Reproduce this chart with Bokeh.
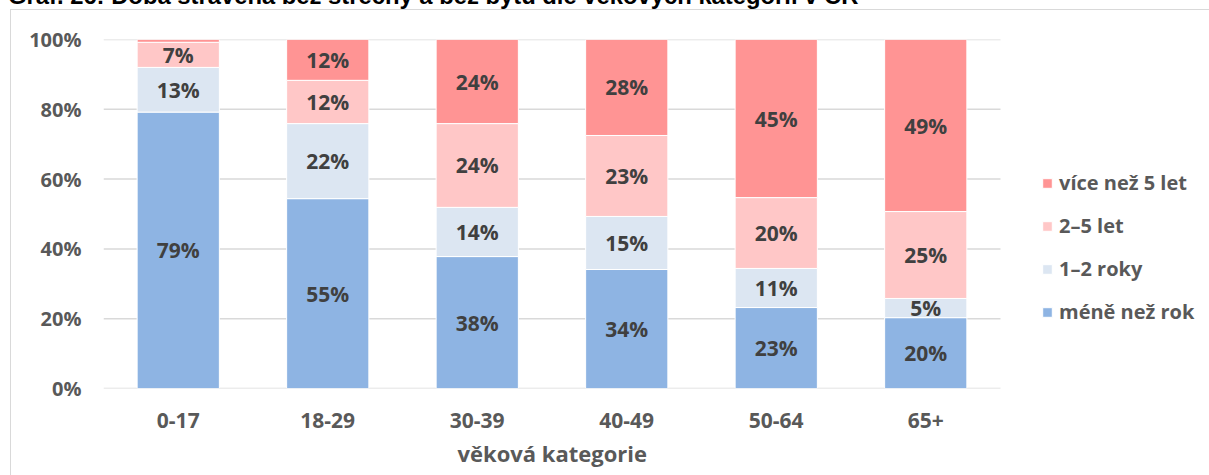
from bokeh.plotting import figure
from bokeh.models import (ColumnDataSource, Range1d, FixedTicker, Title, Div,
                          Legend, LegendItem, InlineStyleSheet)
from bokeh.core.properties import value
from bokeh.embed import file_html
from bokeh.resources import INLINE

chart_title = "Graf. 26: Doba strávená bez střechy a bez bytu dle věkových kategorií v ČR"
categories = ["0-17", "18-29", "30-39", "40-49", "50-64", "65+"]
series = ["méně než rok", "1–2 roky", "2–5 let", "více než 5 let"]
mene_nez_rok = [79.2, 54.4, 37.8, 34.1, 23.2, 20.3]
roky_1_2 = [12.8, 21.5, 14.1, 15.2, 11.2, 5.5]
let_2_5 = [7.2, 12.4, 24.0, 23.2, 20.3, 24.9]
vice_nez_5 = [0.8, 11.7, 24.1, 27.5, 45.3, 49.3]
labels_mene = ["79%", "55%", "38%", "34%", "23%", "20%"]
labels_1_2 = ["13%", "22%", "14%", "15%", "11%", "5%"]
labels_2_5 = ["7%", "12%", "24%", "23%", "20%", "25%"]
labels_vice = ["", "12%", "24%", "28%", "45%", "49%"]
y_ticks = [0, 20, 40, 60, 80, 100]
y_tick_labels = ["0%", "20%", "40%", "60%", "80%", "100%"]
x_title = "věková kategorie"

colors = ["#8EB4E3", "#DCE6F2", "#FFC7C7", "#FF9494"]
FONT = "Open Sans"
AXIS_GRAY = "#595959"
LABEL_DARK = "#404040"

# layout (pixels)
FIG_W, FIG_H = 1209, 475
ML, MR, MT, MB = 103, 0, 39, 87
PLOT_W = 897          # width taken by the six category slots
n = len(categories)
x_end = n * (FIG_W - ML - MR) / PLOT_W

xs = [i + 0.5 for i in range(n)]
src = ColumnDataSource(dict(x=xs, s0=mene_nez_rok, s1=roky_1_2,
                            s2=let_2_5, s3=vice_nez_5))

p = figure(x_range=Range1d(0, x_end), y_range=Range1d(0, 100),
           width=FIG_W, height=FIG_H, output_backend="svg", toolbar_location=None,
           min_border_left=ML, min_border_right=MR, min_border_top=MT,
           min_border_bottom=MB)
p.outline_line_color = None
p.background_fill_color = "white"
p.border_fill_color = "white"
p.xgrid.grid_line_color = None
p.ygrid.grid_line_color = None

# horizontal gridlines across the category area only
p.segment(x0=[0] * len(y_ticks), x1=[n] * len(y_ticks), y0=y_ticks, y1=y_ticks,
          line_color="#D9D9D9", line_width=1.5)

rs = p.vbar_stack(["s0", "s1", "s2", "s3"], x="x", width=0.55, source=src,
                  color=colors, line_color="white", line_width=1)

# data labels
lab_sets = [labels_mene, labels_1_2, labels_2_5, labels_vice]
vals = [mene_nez_rok, roky_1_2, let_2_5, vice_nez_5]
cum = [0.0] * n
for vs, ls in zip(vals, lab_sets):
    mids = [c + v / 2 for c, v in zip(cum, vs)]
    cum = [c + v for c, v in zip(cum, vs)]
    lsrc = ColumnDataSource(dict(x=xs, y=mids, t=ls))
    p.text(x="x", y="y", text="t", source=lsrc, text_align="center",
           text_baseline="middle", text_font=value(FONT), text_font_style="bold",
           text_font_size="21px", text_color=LABEL_DARK)

# axes
p.yaxis.ticker = FixedTicker(ticks=y_ticks)
p.yaxis.major_label_overrides = {t: l for t, l in zip(y_ticks, y_tick_labels)}
p.yaxis.major_label_standoff = 16
p.xaxis.ticker = FixedTicker(ticks=xs)
p.xaxis.major_label_overrides = {x: c for x, c in zip(xs, categories)}
p.xaxis.major_label_standoff = 18
for ax in (p.xaxis, p.yaxis):
    ax.axis_line_color = None
    ax.major_tick_line_color = None
    ax.minor_tick_line_color = None
    ax.major_label_text_font = FONT
    ax.major_label_text_font_style = "bold"
    ax.major_label_text_color = AXIS_GRAY
p.yaxis.major_label_text_font_size = "20px"
p.xaxis.major_label_text_font_size = "21px"

# x-axis title, centred under the category area
p.add_layout(Title(text=x_title, align="left", offset=354, standoff=10,
                   text_font=FONT, text_font_style="bold",
                   text_font_size="22px", text_color=AXIS_GRAY), "below")

# legend
items = [LegendItem(label=s, renderers=[r]) for s, r in zip(series, rs)][::-1]
leg = Legend(items=items, location=(938, 63), padding=0, margin=0,
             glyph_width=12, glyph_height=12, label_height=20, spacing=16,
             label_standoff=6, border_line_color=None, background_fill_alpha=0,
             label_text_font=FONT, label_text_font_style="bold",
             label_text_font_size="20px", label_text_color=AXIS_GRAY)
p.add_layout(leg, "center")

# outer chart border (light gray frame around the whole chart)
p.stylesheets = [InlineStyleSheet(css="""
:host::after {
  content: ""; position: absolute; left: 10px; top: 9px;
  right: -20px; bottom: -20px; border: 1.5px solid #D9D9D9;
  pointer-events: none;
}
""")]

# the report's chart caption, cropped at the top edge as in the source picture
if hasattr(p, "elements"):
    cap = Div(text=chart_title, styles={
        "position": "absolute", "top": "-16px", "left": "8px", "z-index": "10",
        "white-space": "nowrap", "font-family": "Liberation Sans",
        "font-weight": "bold", "font-size": "23.8px", "line-height": "1",
        "color": "#000000"})
    p.elements = [cap]

open("out.html", "w").write(file_html(p, INLINE))
